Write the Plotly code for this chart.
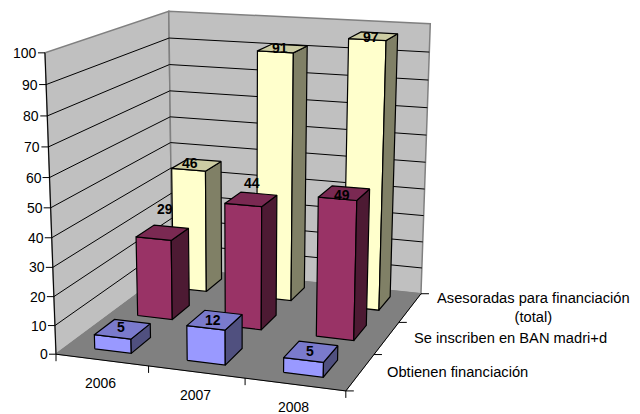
import numpy as np
import plotly.graph_objects as go

# --- chart values ------------------------------------------------------
years = ["2006", "2007", "2008"]
series_names = ["Obtienen financiación", "Se inscriben en BAN madri+d",
                "Asesoradas para financiación<br>(total)"]
obtienen = [5, 12, 5]
inscriben = [29, 44, 49]
asesoradas = [46, 91, 97]
z_ticks = [0, 10, 20, 30, 40, 50, 60, 70, 80, 90, 100]

# --- styles ------------------------------------------------------------
series_values = [obtienen, inscriben, asesoradas]
face_colors = [("#9999FF", "#7A7ACC", "#50507F"),
               ("#993366", "#7A2952", "#4D1A33"),
               ("#FFFFCC", "#CCCCA3", "#808066")]
# pixel nudges of the value labels, per series and year
label_dx = [[-2, -2, -1], [2, 1, -2], [-7, -3, -2]]
label_dy = [[-2, 0, -1], [-24, -16, 2], [-2, 0, 1]]
ROW_CENTER = [0.5, 1.56, 2.55]
HALF_W, HALF_D = 0.20, 0.24
FONT = "Liberation Sans"

# Plotly's 3-D scene has a fixed 45 degree lens, far too wide for this long-lens
# view, so the same camera model is applied here and drawn on plain x/y axes.
EYE = np.array([1.124, -3.249, 0.853])
LOOK = np.array([0.356, -1.037, 0.161])
BOX = np.array([0.669, 0.695, 0.674])
UP = np.array([-0.274, 0.786, 1.0])
CX, CY, F = 247.456, 251.615, 1537.834
_f = (LOOK - EYE) / np.linalg.norm(LOOK - EYE)
_r = np.cross(_f, UP); _r /= np.linalg.norm(_r)
_u = np.cross(_r, _f)


def proj(x, d, v):
    """x: category position 0-3, d: depth position 0-3, v: value 0-100."""
    p = np.array([x / 3 - .5, d / 3 - .5, v / 100 - .5]) * BOX - EYE
    w = p @ _f
    return CX + F * (p @ _r) / w, CY - F * (p @ _u) / w


fig = go.Figure()


def poly(points, fill, line="black", width=1.2):
    xy = [proj(*p) for p in points]
    xy.append(xy[0])
    fig.add_trace(go.Scatter(x=[a for a, _ in xy], y=[b for _, b in xy], mode="lines",
                             fill="toself", fillcolor=fill,
                             line=dict(color=line, width=width), hoverinfo="skip"))


def seg(pts, color="black", width=1.0):
    fig.add_trace(go.Scatter(x=[p[0] for p in pts], y=[p[1] for p in pts], mode="lines",
                             line=dict(color=color, width=width), hoverinfo="skip"))


def text(x, y, s, size=14, anchor="center", bold=False):
    fig.add_annotation(x=x, y=y, text=f"<b>{s}</b>" if bold else s, showarrow=False,
                       xanchor=anchor, yanchor="middle", align="center",
                       font=dict(family=FONT, size=size, color="black"))


# walls and floor
poly([(0, 0, 0), (0, 3, 0), (0, 3, 100), (0, 0, 100)], "#C0C0C0", "#808080", 1.5)
poly([(0, 3, 0), (3, 3, 0), (3, 3, 100), (0, 3, 100)], "#C0C0C0", "#808080", 1.5)
poly([(0, 0, 0), (3, 0, 0), (3, 3, 0), (0, 3, 0)], "#808080", "#808080", 1)
for t in z_ticks[1:-1]:
    seg([proj(0, 0, t), proj(0, 3, t), proj(3, 3, t)], "black", 1)

# axis lines and ticks
seg([proj(0, 0, 0), proj(0, 0, 100)], "black", 1)
seg([proj(0, 0, 0), proj(3, 0, 0)], "black", 1)
seg([proj(3, 0, 0), proj(3, 3, 0)], "black", 1)
for t in z_ticks:
    a, b = proj(0, 0, t)
    seg([(a - 7, b), (a, b)], "black", 1)
    text(a - 6, b, str(t), anchor="right")
for i in range(len(years) + 1):
    a, b = proj(i, 0, 0)
    seg([(a, b), (a, b + 7)], "black", 1)
    a, b = proj(3, i, 0)
    seg([(a, b), (a + 8, b)], "black", 1)
for i, y in enumerate(years):
    a, b = proj(i + .5, 0, 0)
    text(a - 1, b + 23, y)
for j, name in enumerate(series_names):
    a, b = proj(3, j + .5, 0)
    text(a + 25, b, name, size=14.7, anchor="left")

# bars, back row first
for j in (2, 1, 0):
    front, top, side = face_colors[j]
    for i, v in enumerate(series_values[j]):
        x0, x1 = i + .5 - HALF_W, i + .5 + HALF_W
        d0, d1 = ROW_CENTER[j] - HALF_D, ROW_CENTER[j] + HALF_D
        poly([(x0, d0, 0), (x1, d0, 0), (x1, d0, v), (x0, d0, v)], front)
        poly([(x1, d0, 0), (x1, d1, 0), (x1, d1, v), (x1, d0, v)], side)
        poly([(x0, d0, v), (x1, d0, v), (x1, d1, v), (x0, d1, v)], top)
for j in (2, 1, 0):
    for i, v in enumerate(series_values[j]):
        a, b = proj(i + .5, ROW_CENTER[j], v)
        text(a + label_dx[j][i], b + label_dy[j][i], str(v), size=14, bold=True)

fig.update_layout(width=640, height=414, margin=dict(l=0, r=0, t=0, b=0),
                  paper_bgcolor="white", plot_bgcolor="white", showlegend=False,
                  xaxis=dict(range=[0, 640], visible=False, fixedrange=True),
                  yaxis=dict(range=[414, 0], visible=False, fixedrange=True))
fig.write_html("out.html", config={"displayModeBar": False},
               post_script="document.body.style.margin='0';")
